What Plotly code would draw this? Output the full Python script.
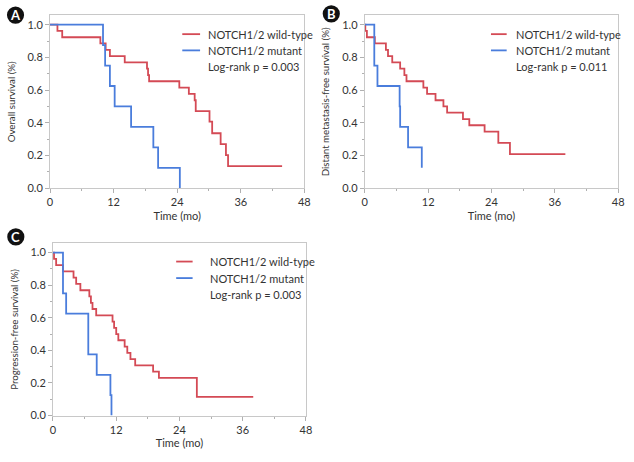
import plotly.graph_objects as go

# ---- Data ----
a_wt_t = [0, 1.4, 2.3, 9.5, 10.5, 11.3, 14.1, 18.3, 18.5, 18.7, 24.4, 26.2, 27.3, 27.5, 30.1, 30.6, 32.2, 33.2, 33.6, 43.8]
a_wt_s = [1.0, 0.962, 0.923, 0.885, 0.846, 0.808, 0.769, 0.731, 0.692, 0.654, 0.615, 0.577, 0.538, 0.471, 0.407, 0.336, 0.27, 0.202, 0.135, 0.135]
a_mu_t = [0, 10.0, 10.4, 11.3, 12.2, 15.3, 19.5, 20.4, 24.5]
a_mu_s = [1.0, 0.875, 0.75, 0.625, 0.5, 0.375, 0.25, 0.125, 0.0]

b_wt_t = [0, 0.1, 0.4, 1.9, 4.0, 4.4, 5.2, 6.7, 7.5, 7.9, 11.1, 11.8, 13.4, 14.9, 15.6, 18.6, 19.8, 22.7, 25.3, 27.5, 38.0]
b_wt_s = [1.0, 0.962, 0.923, 0.885, 0.846, 0.808, 0.769, 0.731, 0.692, 0.654, 0.615, 0.577, 0.538, 0.5, 0.462, 0.423, 0.385, 0.346, 0.277, 0.208, 0.208]
b_mu_t = [0, 1.8, 2.4, 6.6, 6.7, 8.2, 10.8]
b_mu_s = [1.0, 0.75, 0.625, 0.5, 0.375, 0.25, 0.125]

c_wt_t = [0, 0.2, 0.6, 1.9, 3.9, 4.4, 5.2, 6.9, 7.2, 7.5, 8.2, 11.3, 11.6, 12.0, 12.4, 13.6, 14.1, 14.7, 15.6, 19.0, 20.1, 27.3, 38.0]
c_wt_s = [1.0, 0.962, 0.923, 0.885, 0.846, 0.808, 0.769, 0.731, 0.692, 0.654, 0.615, 0.577, 0.538, 0.5, 0.462, 0.423, 0.385, 0.346, 0.308, 0.269, 0.231, 0.115, 0.115]
c_mu_t = [0, 1.9, 2.5, 6.7, 8.3, 10.9, 11.1]
c_mu_s = [1.0, 0.75, 0.625, 0.375, 0.25, 0.125, 0.0]

x_ticks = [0, 12, 24, 36, 48]
y_ticks = [0.0, 0.2, 0.4, 0.6, 0.8, 1.0]
y_titles = ["Overall survival (%)", "Distant metastasis-free survival (%)", "Progression-free survival (%)"]
pvals = ["Log-rank p = 0.003", "Log-rank p = 0.011", "Log-rank p = 0.003"]
labels = ["NOTCH1/2 wild-type", "NOTCH1/2 mutant"]
panel_letters = ["A", "B", "C"]

RED = "#d44a55"
BLUE = "#4a7ddc"
FONT = "Lato"
TXT = "#333333"
W, H = 634, 462

fig = go.Figure()
panels = [
    (a_wt_t, a_wt_s, a_mu_t, a_mu_s, "x", "y"),
    (b_wt_t, b_wt_s, b_mu_t, b_mu_s, "x2", "y2"),
    (c_wt_t, c_wt_s, c_mu_t, c_mu_s, "x3", "y3"),
]
for wt_t, wt_s, mu_t, mu_s, xa, ya in panels:
    fig.add_trace(go.Scatter(x=wt_t, y=wt_s, mode="lines", line=dict(color=RED, width=1.8, shape="hv"),
                             xaxis=xa, yaxis=ya, showlegend=False))
    fig.add_trace(go.Scatter(x=mu_t, y=mu_s, mode="lines", line=dict(color=BLUE, width=1.8, shape="hv"),
                             xaxis=xa, yaxis=ya, showlegend=False))

# pixel boxes: (left, right, top, bottom)
boxes = [(47.7, 305.7, 15.7, 190.7), (367, 624, 15.7, 190.7), (50.7, 307.3, 246.7, 421)]

def ax_common():
    return dict(showline=True, linecolor="#c8c8c8", linewidth=1, mirror=True, showgrid=False,
                zeroline=False, ticks="outside", ticklen=4, tickcolor="#b0b0b0",
                tickfont=dict(family=FONT, size=11, color=TXT))

layout = {}
for i, (l, r, t, b) in enumerate(boxes):
    sfx = "" if i == 0 else str(i + 1)
    xa = ax_common()
    xa.update(domain=[l / W, r / W], range=[0, 48], tickvals=x_ticks,
              ticktext=[str(v) for v in x_ticks],
              minor=dict(dtick=6, tick0=0, ticklen=2, ticks="outside", tickcolor="#b0b0b0"),
              anchor="y" + sfx,
              title=dict(text="Time (mo)", font=dict(family=FONT, size=11, color=TXT), standoff=4))
    ya = ax_common()
    ya.update(domain=[1 - b / H, 1 - t / H], range=[0, 1.056], tickvals=y_ticks,
              ticktext=["%.1f" % v for v in y_ticks],
              minor=dict(dtick=0.1, tick0=0, ticklen=2, ticks="outside", tickcolor="#b0b0b0"),
              anchor="x" + sfx,
              title=dict(text=y_titles[i], font=dict(family=FONT, size=9.7, color=TXT), standoff=10))
    layout["xaxis" + sfx] = xa
    layout["yaxis" + sfx] = ya

fig.update_layout(**layout)

# legends drawn per panel
leg = [
    dict(x0=0.52, x1=0.59, tx=0.614, ys=[0.892, 0.798, 0.707]),
    dict(x0=0.498, x1=0.56, tx=0.5895, ys=[0.892, 0.798, 0.707]),
    dict(x0=0.487, x1=0.552, tx=0.614, ys=[0.895, 0.799, 0.704]),
]
shapes = []
annotations = []
for i, lg in enumerate(leg):
    sfx = "" if i == 0 else str(i + 1)
    for j, col in enumerate([RED, BLUE]):
        shapes.append(dict(type="line", xref="x" + sfx + " domain", yref="y" + sfx + " domain",
                           x0=lg["x0"], x1=lg["x1"], y0=lg["ys"][j], y1=lg["ys"][j],
                           line=dict(color=col, width=1.8)))
        annotations.append(dict(xref="x" + sfx + " domain", yref="y" + sfx + " domain",
                                x=lg["tx"], y=lg["ys"][j], text=labels[j], showarrow=False,
                                xanchor="left", yanchor="middle",
                                font=dict(family=FONT, size=11, color=TXT)))
    annotations.append(dict(xref="x" + sfx + " domain", yref="y" + sfx + " domain",
                            x=lg["tx"], y=lg["ys"][2], text=pvals[i], showarrow=False,
                            xanchor="left", yanchor="middle",
                            font=dict(family=FONT, size=11, color=TXT)))

# panel letter badges
centers = [(12.7, 15.3), (333, 14), (13, 240)]
for k, (cx, cy) in enumerate(centers):
    rr = 8.7
    shapes.append(dict(type="circle", xref="paper", yref="paper",
                       x0=(cx - rr) / W, x1=(cx + rr) / W, y0=1 - (cy + rr) / H, y1=1 - (cy - rr) / H,
                       fillcolor="#111111", line=dict(color="#111111", width=0)))
    annotations.append(dict(xref="paper", yref="paper", x=cx / W, y=1 - cy / H, text="<b>%s</b>" % panel_letters[k],
                            showarrow=False, xanchor="center", yanchor="middle",
                            font=dict(family=FONT, size=13, color="white")))

fig.update_layout(shapes=shapes, annotations=annotations, width=W, height=H,
                  margin=dict(l=0, r=0, t=0, b=0), plot_bgcolor="white", paper_bgcolor="white",
                  showlegend=False)

fig.write_html("out.html")
